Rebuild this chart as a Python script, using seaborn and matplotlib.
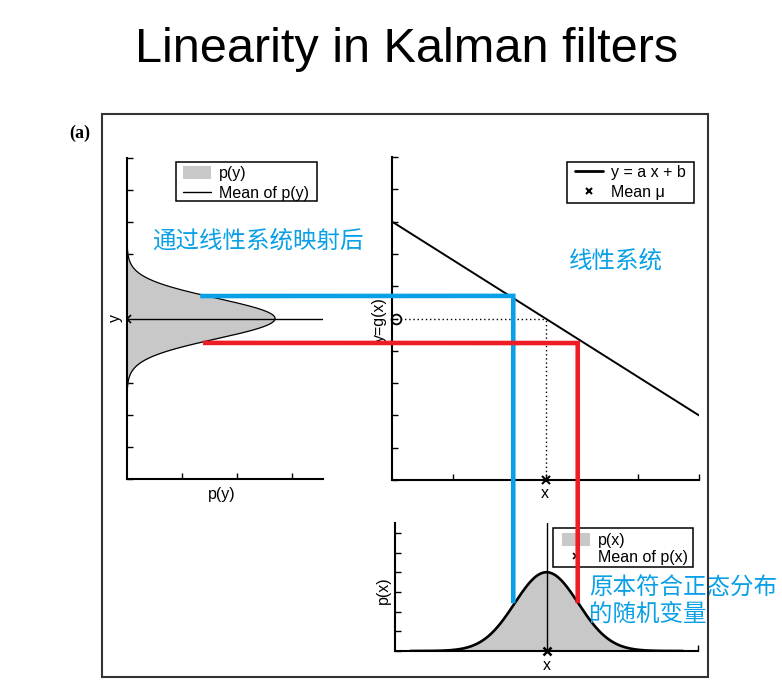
import numpy as np
import pandas as pd
import matplotlib
matplotlib.use("Agg")
import matplotlib.pyplot as plt
import seaborn as sns
from matplotlib.lines import Line2D
from matplotlib.patches import Patch, Rectangle

# ---------------- data ----------------
x_mean = 0.0          # mean of p(x)
x_sigma = 1.05        # std of p(x)
px_peak = 4.0         # peak height of p(x)
x_support = [-4.5, 4.5]
line_a = -0.6         # y = a x + b
line_b = 5.0
line_x = [-5.0, 5.0]
py_peak = 2.69        # peak of p(y) (horizontal)
y_support = [2.6, 7.4]

blue_pt = [-1.05, 5.70, 1.33]   # x, y level, start on p(y) curve
red_pt = [1.05, 4.24, 1.38]

xticks_R = [-3, 0, 3, 5]
yticks_10 = list(range(0, 11))
xticks_L = [1, 2, 3]
yticks_B = list(range(0, 7))

legL_labels = ["p(y)", "Mean of p(y)"]
legR_labels = ["y = a x + b", "Mean μ"]
legB_labels = ["p(x)", "Mean of p(x)"]

BLUE = "#0AA0E6"
RED = "#EE1C25"
GRAY = "#c8c8c8"

# ---------------- figure ----------------
sns.set_style("ticks")
plt.rcParams["font.family"] = ["Liberation Sans", "Noto Sans CJK SC", "DejaVu Sans"]
plt.rcParams["text.color"] = "black"
W, H = 782, 697
fig = plt.figure(figsize=(W / 100, H / 100), dpi=100)


def px_axes(l, t, r, b):
    ax = fig.add_axes([l / W, 1 - b / H, (r - l) / W, (b - t) / H])
    ax.patch.set_alpha(0)
    for s in ["top", "right"]:
        ax.spines[s].set_visible(False)
    for s in ["left", "bottom"]:
        ax.spines[s].set_linewidth(1.5)
        ax.spines[s].set_color("black")
    ax.tick_params(direction="in", length=4, width=1, labelleft=False,
                   labelbottom=False, color="black")
    return ax


def frame_px(l, t, r, b):
    fig.add_artist(Rectangle((l / W, 1 - b / H), (r - l) / W, (b - t) / H,
                             transform=fig.transFigure, facecolor="white",
                             edgecolor="black", lw=1.1, zorder=3))


def legend_px(handles, labels, left, top, spacing):
    lg = fig.legend(handles, labels, loc="upper left",
                    bbox_to_anchor=(left / W, 1 - top / H), bbox_transform=fig.transFigure,
                    frameon=False, fontsize=11.5, handlelength=1.75, handleheight=0.85,
                    labelspacing=spacing, borderpad=0, handletextpad=0.5, borderaxespad=0)
    lg.set_zorder(4)
    return lg


axL = px_axes(127, 158, 323, 479)
axR = px_axes(392, 157, 699, 480)
axB = px_axes(395, 523, 698, 651)

y_mean = line_a * x_mean + line_b
y_sigma = abs(line_a) * x_sigma


def pdf_x(x):
    return px_peak * np.exp(-0.5 * ((np.asarray(x) - x_mean) / x_sigma) ** 2)


def pdf_y(y):
    return py_peak * np.exp(-0.5 * ((np.asarray(y) - y_mean) / y_sigma) ** 2)


# ---- left: p(y)
ys = np.linspace(y_support[0], y_support[1], 300)
dfy = pd.DataFrame({"p": pdf_y(ys), "y": ys})
axL.fill_betweenx(dfy["y"], 0, dfy["p"], color=GRAY, lw=0)
sns.lineplot(data=dfy, x="p", y="y", orient="y", ax=axL, color="black", lw=0.9)
axL.plot([0, 3.56], [y_mean, y_mean], color="black", lw=1)
axL.plot([0], [y_mean], marker="x", color="black", ms=6, mew=1.2)
axL.set_xlim(0, 3.56)
axL.set_ylim(0, 10)
axL.set_xticks(xticks_L)
axL.set_yticks(yticks_10)
axL.set_xlabel("")
axL.set_ylabel("")
frame_px(176, 162, 317, 201)
legend_px([Patch(facecolor=GRAY, edgecolor="none"), Line2D([], [], color="black", lw=1)],
          legL_labels, 183, 166, 0.3)

# ---- right: y = a x + b
dfl = pd.DataFrame({"x": line_x, "y": [line_a * v + line_b for v in line_x]})
sns.lineplot(data=dfl, x="x", y="y", ax=axR, color="black", lw=1.4)
axR.plot([-5, x_mean], [y_mean, y_mean], color="black", lw=1, ls=(0, (1, 2)))
axR.plot([x_mean, x_mean], [0, y_mean], color="black", lw=1, ls=(0, (1, 2)))
axR.plot([-4.87], [y_mean], marker="o", mfc="none", mec="black", ms=7, mew=1.3, clip_on=False)
axR.plot([x_mean], [0], marker="x", color="black", ms=6, mew=1.5, clip_on=False)
axR.set_xlim(-5, 5)
axR.set_ylim(0, 10)
axR.set_xticks(xticks_R)
axR.set_yticks(yticks_10)
axR.set_xlabel("")
axR.set_ylabel("")
frame_px(567, 162, 694, 203)
legend_px([Line2D([], [], color="black", lw=2),
           Line2D([], [], color="black", marker="x", ls="none", ms=5, mew=1.5)],
          legR_labels, 575, 165, 0.3)

# ---- bottom: p(x)
xs = np.linspace(x_support[0], x_support[1], 300)
dfx = pd.DataFrame({"x": xs, "p": pdf_x(xs)})
axB.fill_between(dfx["x"], 0, dfx["p"], color=GRAY, lw=0)
sns.lineplot(data=dfx, x="x", y="p", ax=axB, color="black", lw=1.9)
axB.plot([x_mean, x_mean], [0, 6.5], color="black", lw=1)
axB.plot([x_mean], [0], marker="x", color="black", ms=6, mew=1.8, clip_on=False)
axB.set_xlim(-5, 5)
axB.set_ylim(0, 6.5)
axB.set_xticks([5])
axB.set_yticks(yticks_B)
axB.set_xlabel("")
axB.set_ylabel("")
frame_px(553, 528, 693, 567)
legend_px([Patch(facecolor=GRAY, edgecolor="none"),
           Line2D([], [], color="black", marker="x", ls="none", ms=4, mew=1.2)],
          legB_labels, 562, 533, 0.15)

# ---- connectors (blue / red)
inv = fig.transFigure.inverted()


def to_fig(ax, x, y):
    return inv.transform(ax.transData.transform((x, y)))


for (cx, cy, cs), col in [(blue_pt, BLUE), (red_pt, RED)]:
    p1 = to_fig(axL, cs, cy)
    p2 = to_fig(axR, cx, cy)
    p3 = to_fig(axB, cx, float(pdf_x(cx)))
    fig.add_artist(Line2D([p1[0], p2[0], p2[0]], [p1[1], p2[1], p3[1]],
                          transform=fig.transFigure, color=col, lw=3.3,
                          solid_joinstyle="miter", solid_capstyle="butt", zorder=6))

# ---- texts
def ftext(x, y, s, **kw):
    fig.text(x / W, 1 - y / H, s, **kw)


ftext(407, 49, "Linearity in Kalman filters", fontsize=35, ha="center", va="center",
      color="black")
ftext(80, 133, "(a)", fontsize=13, fontweight="bold", family="Liberation Serif",
      ha="center", va="center")
ftext(115, 318, "y", fontsize=11.5, rotation=90, ha="center", va="center")
ftext(222, 494, "p(y)", fontsize=11.5, ha="center", va="center")
ftext(379, 320, "y=g(x)", fontsize=11.5, rotation=90, ha="center", va="center")
ftext(545, 493, "x", fontsize=11.5, ha="center", va="center")
ftext(383, 590, "p(x)", fontsize=11.5, rotation=90, ha="center", va="center")
ftext(547, 665, "x", fontsize=11.5, ha="center", va="center")

cjk = dict(family=["Noto Sans CJK SC", "DejaVu Sans"], color=BLUE, fontsize=16.9,
           ha="left", va="center", zorder=7)
ftext(152, 241, "通过线性系统映射后", **cjk)
ftext(569, 261, "线性系统", **cjk)
ftext(589, 588, "原本符合正态分布", **cjk)
ftext(589, 614, "的随机变量", **cjk)

# ---- outer frame
fig.add_artist(Rectangle((102 / W, 1 - 677 / H), (708 - 102) / W, (677 - 114) / H,
                         transform=fig.transFigure, fill=False, edgecolor="#333333",
                         lw=1.5, zorder=10))

fig.savefig("out.png", dpi=100)
